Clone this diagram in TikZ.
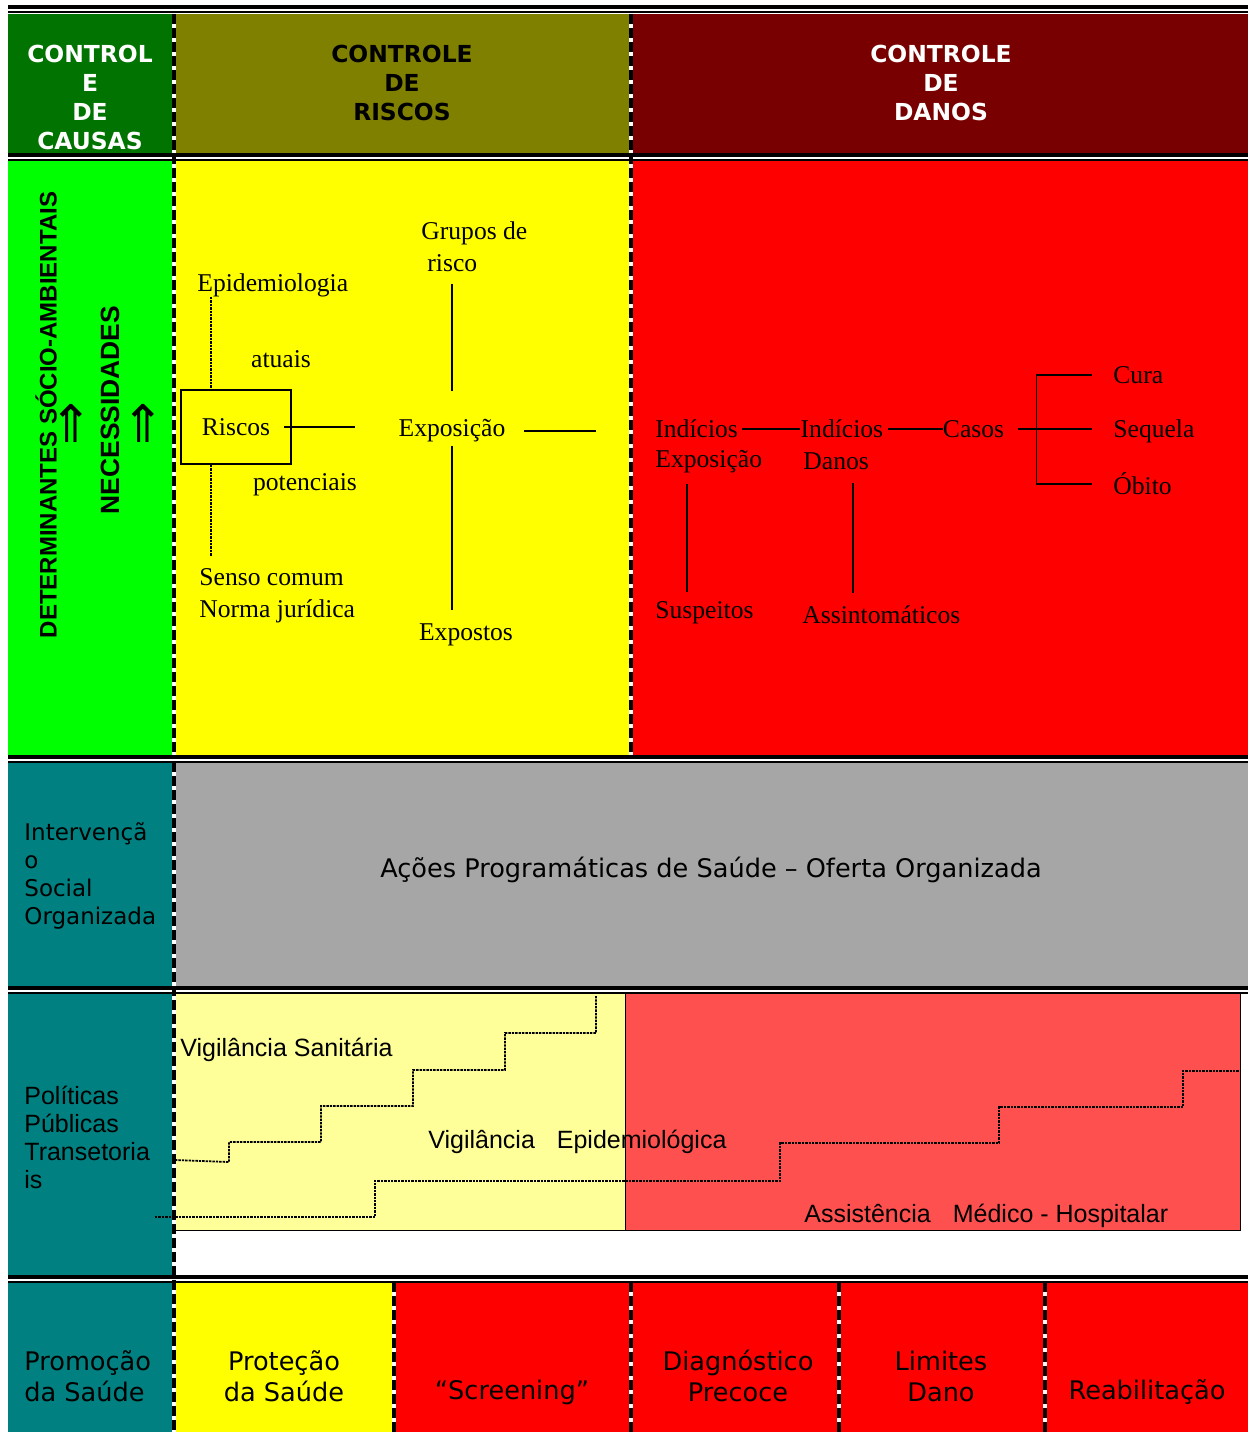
\documentclass[tikz,border=0pt]{standalone}
\usepackage{fontspec}
\setmainfont{Liberation Serif}
\newfontfamily\verdana{DejaVu Sans}
\newfontfamily\arial{Liberation Sans}
\usepackage{tikz}
\usetikzlibrary{positioning}
\definecolor{verdeescuro}{RGB}{0,115,0}
\definecolor{oliva}{RGB}{128,128,0}
\definecolor{vinho}{RGB}{120,0,0}
\definecolor{verdevivo}{RGB}{0,255,0}
\definecolor{amarelo}{RGB}{255,255,0}
\definecolor{vermelho}{RGB}{255,0,0}
\definecolor{petroleo}{RGB}{0,128,128}
\definecolor{cinza}{RGB}{166,166,166}
\definecolor{amareloclaro}{RGB}{255,255,153}
\definecolor{vermelhoclaro}{RGB}{255,80,80}
\tikzstyle{serifa}=[inner sep=0pt, align=left, font=\fontsize{12.8}{16}\selectfont]
\tikzstyle{cabecalho}=[inner sep=0pt, align=center, font=\verdana\bfseries\fontsize{11.7}{14.5}\selectfont]
\tikzstyle{textoverdana}=[inner sep=0pt, align=left, font=\verdana\fontsize{11.5}{14}\selectfont]
\tikzstyle{textoarial}=[inner sep=0pt, align=left, font=\arial\fontsize{12.5}{14}\selectfont]
\tikzstyle{rodape}=[inner sep=0pt, align=center, font=\verdana\fontsize{12.8}{15.5}\selectfont]
\tikzstyle{textovertical}=[inner sep=0pt, rotate=90, font=\arial\bfseries\fontsize{12}{14}\selectfont]
\tikzset{separador/.style={preaction={draw=white, line width=2.2pt}, draw=black, line width=1.6pt, dash pattern=on 5pt off 2pt},
	escada/.style={line width=0.9pt, dash pattern=on 1.2pt off 0.5pt},
	ligacao/.style={line width=0.8pt}}
\newcommand{\linhadupla}[1]{\draw[line width=1.6pt] (8,#1) -- (1248,#1);
	\draw[line width=1.4pt] (8,{#1+5}) -- (1248,{#1+5});}

\begin{document}
\begin{tikzpicture}[x=0.5pt, y=-0.5pt]
	\useasboundingbox (0,0) rectangle (1252,1432);
	\fill[verdeescuro] (8,14) rectangle (174,155);
	\fill[oliva] (174,14) rectangle (631,155);
	\fill[vinho] (631,14) rectangle (1248,155);
	\fill[verdevivo] (8,160) rectangle (174,757);
	\fill[amarelo] (174,160) rectangle (631,757);
	\fill[vermelho] (631,160) rectangle (1248,757);
	\fill[petroleo] (8,762) rectangle (174,988);
	\fill[cinza] (174,762) rectangle (1248,988);
	\fill[petroleo] (8,993) rectangle (174,1277);
	\draw[fill=amareloclaro] (175,993) rectangle (625,1230);
	\draw[fill=vermelhoclaro] (625,993) rectangle (1240,1230);
	\fill[petroleo] (8,1282) rectangle (174,1432);
	\fill[amarelo] (174,1282) rectangle (394,1432);
	\fill[vermelho] (394,1282) rectangle (1248,1432);
	\foreach \x in {174,631} \draw[separador] (\x,14) -- (\x,757);
	\draw[separador] (174,762) -- (174,1432);
	\foreach \x in {394,631,839,1045} \draw[separador] (\x,1282) -- (\x,1432);
	\foreach \y in {7,155,757,988,1277} {\linhadupla{\y}}
	
	\node[cabecalho, text=white] (causas) at (90,97) {CONTROL\\E\\DE\\CAUSAS};
	\node[cabecalho] (riscostit) at (402,83) {CONTROLE\\DE\\RISCOS};
	\node[cabecalho, text=white] (danostit) at (941,83) {CONTROLE\\DE\\DANOS};
	
	\node[textovertical] (determinantes) at (46,415) {DETERMINANTES SÓCIO-AMBIENTAIS};
	\node[textovertical, font=\arial\bfseries\fontsize{13.2}{15}\selectfont] (necessidades) at (110,410) {NECESSIDADES};
	\node[inner sep=0pt, font=\verdana\fontsize{26}{26}\selectfont] (seta1) at (71,423) {⇑};
	\node[inner sep=0pt, font=\verdana\fontsize{26}{26}\selectfont] (seta2) at (143,423) {⇑};
	
	\node[serifa, anchor=west] (epidemio) at (197,285) {Epidemiologia};
	\node[serifa] (atuais) at (281,359) {atuais};
	\node[serifa, draw, line width=0.8pt, minimum width=55pt, minimum height=37pt] (riscos) at (236,427) {Riscos};
	\node[serifa] (potenciais) at (305,485) {potenciais};
	\node[serifa, anchor=north west] (senso) at (199,568) {Senso comum\\Norma jurídica};
	\node[serifa, anchor=west] (grupos) at (421,247) {Grupos de\\\hspace*{3pt}risco};
	\node[serifa] (exposicao) at (452,431) {Exposição};
	\node[serifa] (expostos) at (466,635) {Expostos};
	\coordinate (pontilhado) at ([xshift=7pt]epidemio.south west);
	\draw[escada] (pontilhado) -- (pontilhado |- riscos.north);
	\draw[escada, shorten >=6pt] (pontilhado |- riscos.south) -- (pontilhado |- senso.north);
	\draw[ligacao, shorten >=21.5pt] ([xshift=-4pt]riscos.east) -- (riscos.east -| exposicao.west);
	\draw[ligacao, shorten <=6pt, shorten >=14pt] (grupos.south -| exposicao) -- (exposicao.north);
	\draw[ligacao, shorten <=1.5pt, shorten >=7pt] (exposicao.south) -- (expostos.north -| exposicao);
	
	\node[serifa, anchor=west] (ie1) at (655,429) {Indícios};
	\node[serifa, anchor=west] (ie2) at (655,462) {Exposição};
	\node[serifa, right=31pt of ie1] (id1) {Indícios};
	\node[serifa, anchor=west] (id2) at (803,461) {Danos};
	\node[serifa, right=29.5pt of id1] (casos) {Casos};
	\node[serifa, anchor=west] (cura) at (1113,375) {Cura};
	\node[serifa, anchor=west] (sequela) at (1113,431) {Sequela};
	\node[serifa, anchor=west] (obito) at (1113,484) {Óbito};
	\node[serifa, anchor=west] (suspeitos) at (655,613) {Suspeitos};
	\node[serifa, anchor=west] (assinto) at (802,615) {Assintomáticos};
	\draw[ligacao, shorten >=29.5pt, shorten <=9pt] (exposicao.east) -- (exposicao.east -| ie1.west);
	\draw[ligacao, shorten <=2pt] (ie1.east) -- (id1.west);
	\draw[ligacao, shorten <=2pt] (id1.east) -- (casos.west);
	\coordinate (chave) at ([xshift=16pt]casos.east);
	\draw[ligacao, shorten <=6.5pt, shorten >=10.5pt] (casos.east) -- (casos.east -| sequela.west);
	\draw[ligacao] ([xshift=-10.5pt]cura.west) -| (chave) |- ([xshift=-10.5pt]obito.west);
	\coordinate (linha1) at ([xshift=16pt]ie2.south west);
	\coordinate (linha2) at ([xshift=25pt]id2.south west);
	\draw[ligacao, shorten <=5pt, shorten >=4.5pt] (linha1) -- (linha1 |- suspeitos.north);
	\draw[ligacao, shorten <=6.5pt, shorten >=6.5pt] (linha2) -- (linha2 |- assinto.north);
	
	\node[textoverdana, anchor=west] (intervencao) at (24,876) {Intervençã\\o\\Social\\Organizada};
	\node[textoverdana, font=\verdana\fontsize{12.8}{15}\selectfont] (acoes) at (711,870) {Ações Programáticas de Saúde – Oferta Organizada};
	
	\draw[escada] (175,1160) -- (229,1162) |- (321,1142) |- (413,1106) |- (505,1070) |- (596,1033) -- (596,996);
	\draw[escada] (155,1217) -- (375,1217) |- (780,1181) |- (999,1143) |- (1183,1107) |- (1239,1071);
	\node[textoarial, anchor=west] (politicas) at (24,1137) {Políticas\\Públicas\\Transetoria\\is};
	\node[textoarial, anchor=west] (vigsan) at (180,1050) {Vigilância Sanitária};
	\node[textoarial, anchor=west] (vigepi) at (428,1142) {Vigilância\hspace{11pt}Epidemiológica};
	\node[textoarial, anchor=west] (assist) at (804,1216) {Assistência\hspace{11pt}Médico - Hospitalar};
	
	\node[rodape, anchor=west, align=left] (promocao) at (24,1376) {Promoção\\da Saúde};
	\node[rodape] (protecao) at (284,1376) {Proteção\\da Saúde};
	\node[rodape] (screening) at (512,1392) {“Screening”};
	\node[rodape] (diagnostico) at (738,1376) {Diagnóstico\\Precoce};
	\node[rodape] (limites) at (941,1376) {Limites\\Dano};
	\node[rodape] (reabilitacao) at (1147,1392) {Reabilitação};
\end{tikzpicture}
\end{document}
